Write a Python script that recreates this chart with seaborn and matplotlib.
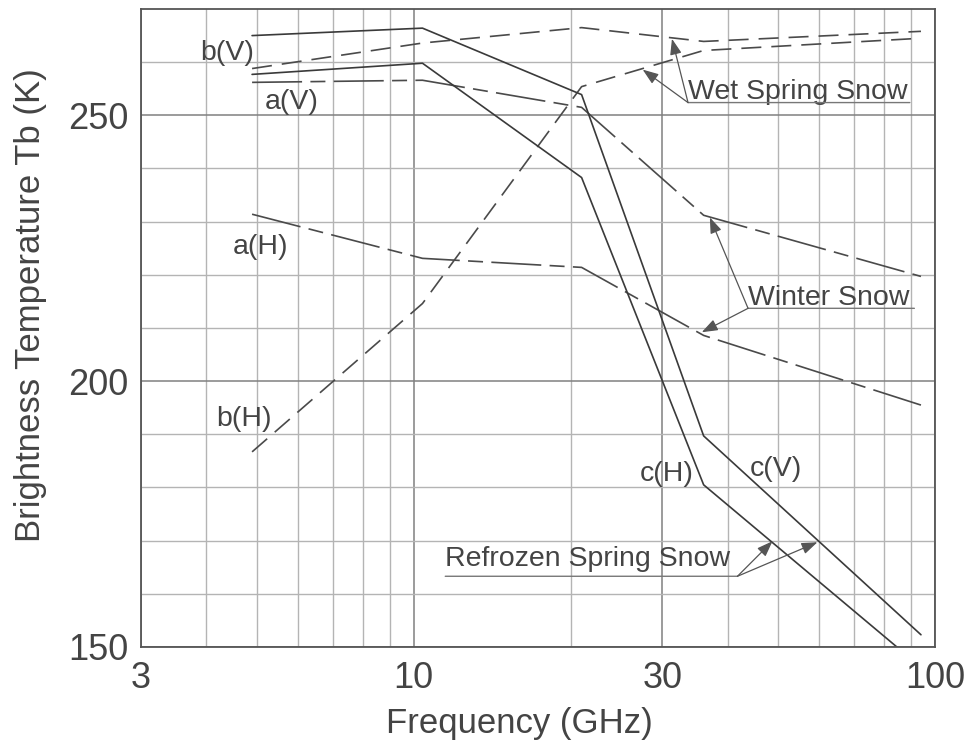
import matplotlib
matplotlib.use("Agg")
import matplotlib.pyplot as plt
from matplotlib.ticker import FixedLocator, FixedFormatter, NullFormatter
import pandas as pd
import seaborn as sns

# Radiometer channels (GHz)
freq_ghz = [4.9, 10.4, 21.0, 36.0, 94.0]

# Brightness temperatures (K): a = winter snow, b = wet spring snow, c = refrozen spring snow
tb_a_v = [256.2, 256.6, 251.5, 231.2, 219.7]
tb_a_h = [231.4, 223.1, 221.4, 208.6, 195.5]
tb_b_v = [258.8, 263.6, 266.5, 263.9, 265.8]
tb_b_h = [186.7, 214.6, 255.4, 262.2, 264.5]
tb_c_v = [265.0, 266.4, 253.9, 189.7, 152.3]
tb_c_h = [257.7, 259.8, 238.3, 180.5, 146.2]

series_names = ["a(V)", "a(H)", "b(V)", "b(H)", "c(V)", "c(H)"]
series_values = [tb_a_v, tb_a_h, tb_b_v, tb_b_h, tb_c_v, tb_c_h]

x_ticks = [3, 10, 30, 100]
x_tick_labels = ["3", "10", "30", "100"]
y_ticks = [150, 200, 250]

df = pd.DataFrame({
    "freq": [f for _ in series_names for f in freq_ghz],
    "tb": [v for vals in series_values for v in vals],
    "series": [n for n in series_names for _ in freq_ghz],
})

sns.set_theme(style="white")
plt.rcParams["font.family"] = ["Liberation Sans", "DejaVu Sans"]

ink = "#444444"
dash_a = (30, 5, 9, 5)
dash_b = (12, 6)
line_dashes = {"a(V)": dash_a, "a(H)": dash_a, "b(V)": dash_b, "b(H)": dash_b,
               "c(V)": "", "c(H)": ""}
line_colors = {"a(V)": "#4a4a4a", "a(H)": "#4a4a4a", "b(V)": "#4a4a4a",
               "b(H)": "#4a4a4a", "c(V)": "#3a3a3a", "c(H)": "#3a3a3a"}

fig = plt.figure(figsize=(9.71, 7.44), dpi=100)
ax = fig.add_axes([0.1452, 0.1304, 0.8177, 0.8575])
ax.set_xscale("log")

sns.lineplot(data=df, x="freq", y="tb", hue="series", style="series",
             palette=line_colors, dashes=line_dashes, estimator=None, sort=False,
             linewidth=1.2, legend=False, ax=ax)

ax.set_xlim(3, 100)
ax.set_ylim(150, 270)

ax.xaxis.set_major_locator(FixedLocator(x_ticks))
ax.xaxis.set_major_formatter(FixedFormatter(x_tick_labels))
ax.xaxis.set_minor_locator(FixedLocator([4, 5, 6, 7, 8, 9, 20, 40, 50, 60, 70, 80, 90]))
ax.xaxis.set_minor_formatter(NullFormatter())
ax.yaxis.set_major_locator(FixedLocator(y_ticks))
ax.yaxis.set_minor_locator(FixedLocator([160, 170, 180, 190, 210, 220, 230, 240, 260]))
ax.yaxis.set_minor_formatter(NullFormatter())

ax.set_axisbelow(True)
ax.grid(which="major", color="#808080", linewidth=1.1)
ax.grid(which="minor", color="#b4b4b4", linewidth=1.0)

ax.tick_params(which="both", length=0, labelsize=26, labelcolor=ink)
ax.tick_params(axis="x", pad=10)
ax.tick_params(axis="y", pad=9)

for sp in ax.spines.values():
    sp.set_color("#555555")
    sp.set_linewidth(1.3)

ax.set_xlabel("Frequency (GHz)", fontsize=25, color=ink)
ax.xaxis.set_label_coords(0.477, -0.094)
ax.set_ylabel("Brightness Temperature Tb (K)", fontsize=25, color=ink)
ax.yaxis.set_label_coords(-0.118, 0.536)

# Curve labels
curve_labels = [("b(V)", 3.89, 260.5), ("a(V)", 5.19, 251.1), ("a(H)", 4.50, 223.9),
                ("b(H)", 4.19, 191.5), ("c(H)", 27.1, 181.2), ("c(V)", 44.2, 182.1)]
for txt, fx, ty in curve_labels:
    ax.text(fx, ty, txt, fontsize=20.5, color=ink, ha="left", va="baseline")

# Group callouts: underlined text with arrows to the curves
arrow_kw = dict(arrowstyle="-|>,head_length=0.6,head_width=0.22", color="#555555",
                lw=0.9, shrinkA=0, shrinkB=0, mutation_scale=16)
line_kw = dict(arrowstyle="-", color="#777777", lw=1.0, shrinkA=0, shrinkB=0)

callouts = [
    # text, text x, baseline, underline y, underline end x, anchor x, arrow tips
    ("Wet Spring Snow", 33.6, 253.0, 252.4, 89.5, 33.6, [(31.3, 264.4), (27.5, 258.6)]),
    ("Winter Snow", 43.8, 214.3, 213.7, 91.3, 43.8, [(37.0, 230.8), (35.7, 209.2)]),
    ("Refrozen Spring Snow", 11.5, 165.2, 163.3, 41.8, 41.8, [(48.8, 169.9), (59.5, 169.7)]),
]
for txt, tx, base, uy, ux_end, ax_x, tips in callouts:
    ax.text(tx, base, txt, fontsize=20.5, color=ink, ha="left", va="baseline")
    ax.annotate("", xy=(ux_end, uy), xytext=(tx, uy), arrowprops=line_kw)
    for tip in tips:
        ax.annotate("", xy=tip, xytext=(ax_x, uy), arrowprops=arrow_kw)

fig.savefig("out.png", dpi=100)
